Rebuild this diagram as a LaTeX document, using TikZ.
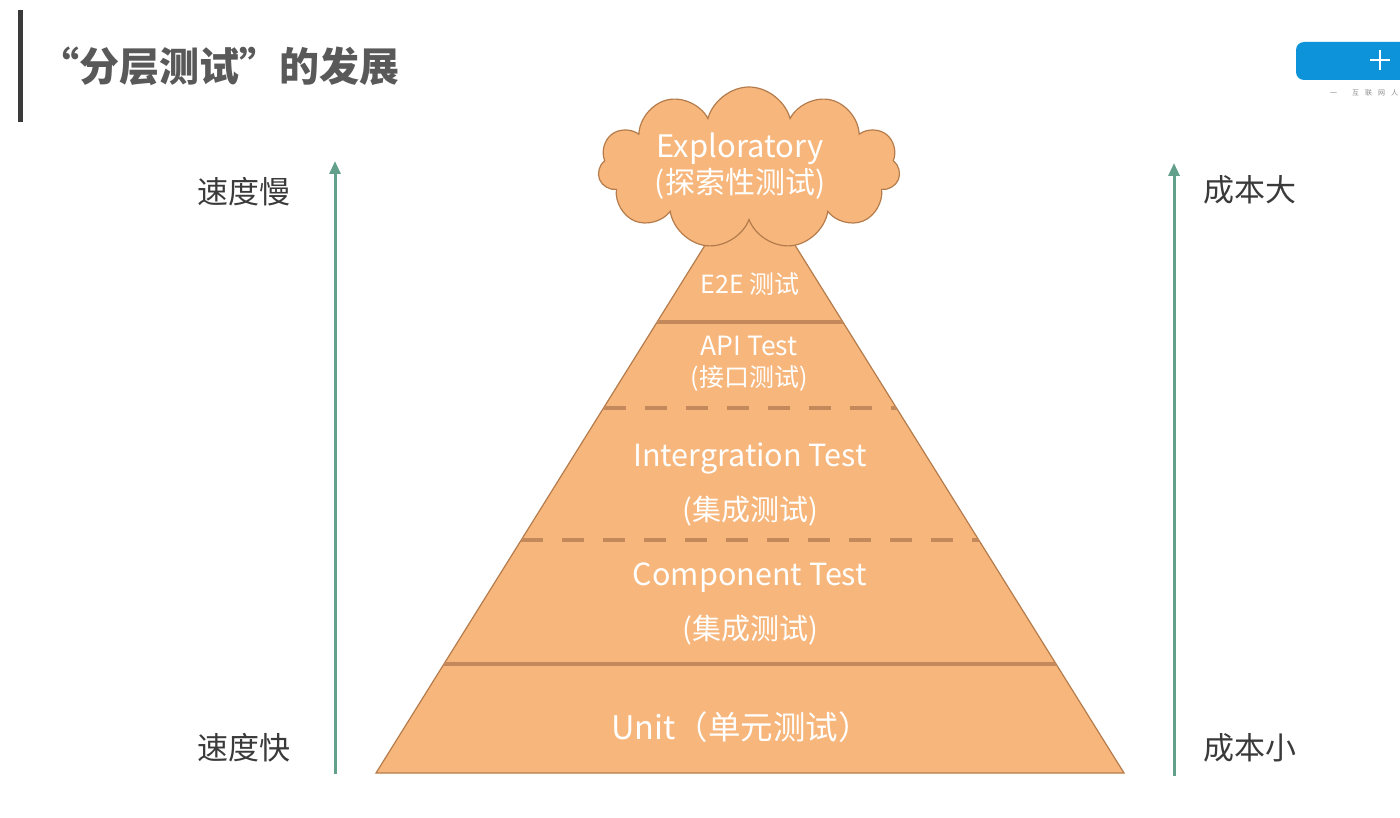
\documentclass[tikz,border=0pt]{standalone}
\usepackage{fontspec}
\setmainfont{Noto Sans CJK SC}
\usetikzlibrary{shapes.symbols,arrows.meta}
\definecolor{pyrfill}{HTML}{F7B67B}
\definecolor{pyredge}{HTML}{B47C4C}
\definecolor{pyrline}{HTML}{C4895A}
\definecolor{axisgreen}{HTML}{62A08C}
\definecolor{inkgray}{HTML}{3A3A3A}
\definecolor{logoblue}{HTML}{0C93DA}
\begin{document}
\begin{tikzpicture}[x=1pt,y=-1pt,
  lbl/.style={text=white,inner sep=0pt},
  side/.style={text=inkgray,font=\fontsize{31}{34}\selectfont,inner sep=0pt},
  axis/.style={draw=axisgreen,line width=3pt,-{Triangle[length=13pt,width=11pt]}},
  sep/.style={draw=pyrline,line width=4.5pt},
  sepdash/.style={sep,dash pattern=on 22pt off 19pt}]
\useasboundingbox (0,0) rectangle (1400,818);
% title
\fill[inkgray] (18,10) rectangle (23,122);
\node[anchor=west,inner sep=0pt,text=black!65,font=\fontsize{40}{44}\selectfont\bfseries] (title) at (39,66) {“分层测试”的发展};
% logo corner
\fill[logoblue,rounded corners=8pt] (1296,42) rectangle (1440,80);
\draw[white,line width=2pt] (1370,60) -- (1390,60) (1380,50) -- (1380,70);
\node[anchor=west,inner sep=0pt,text=black!45,font=\fontsize{7}{8}\selectfont] (logotxt) at (1330,93) {一\hspace{15pt}互\hspace{6pt}联\hspace{6pt}网\hspace{6pt}人};
% pyramid
\coordinate (apex) at (750,173);
\coordinate (bl) at (376,773);
\coordinate (br) at (1124,773);
\filldraw[fill=pyrfill,draw=pyredge,line width=1.2pt] (bl) -- (apex) -- (br) -- cycle;
\def\cut#1#2#3{\draw[#2] ({750-0.6233*(#1-173)},#1) -- ({750+0.6233*(#1-173)+#3},#1);}
\cut{322}{sep}{0}
\cut{664}{sep}{0}
\begin{scope}
\clip (bl) -- (apex) -- (br) -- cycle;
\cut{408}{sepdash}{30}
\cut{540}{sepdash}{30}
\end{scope}
\node[cloud,cloud puffs=11,cloud ignores aspect,fill=pyrfill,draw=pyredge,line width=1.2pt,minimum width=302pt,minimum height=162pt] (cloud) at (749,168) {};
\node[lbl,font=\fontsize{31}{34}\selectfont] (explore) at (740,149) {Exploratory};
\node[lbl,font=\fontsize{30}{34}\selectfont] (explorecn) at (740,184) {(探索性测试)};
\node[lbl,font=\fontsize{25}{28}\selectfont] (e2e) at (750,284) {E2E 测试};
\node[lbl,font=\fontsize{26.5}{30}\selectfont] (api) at (749,346) {API Test};
\node[lbl,font=\fontsize{25}{28}\selectfont] (apicn) at (749,378) {(接口测试)};
\node[lbl,font=\fontsize{30.5}{34}\selectfont] (integ) at (750,458) {Intergration Test};
\node[lbl,font=\fontsize{29}{32}\selectfont] (integcn) at (750,511) {(集成测试)};
\node[lbl,font=\fontsize{30.5}{34}\selectfont] (comp) at (750,578) {Component Test};
\node[lbl,font=\fontsize{29}{32}\selectfont] (compcn) at (750,630) {(集成测试)};
\node[lbl,font=\fontsize{32.5}{36}\selectfont] (unit) at (741,727) {Unit（单元测试）};
% side axes
\node[side] (slow) at (244,192) {速度慢};
\node[side] (fast) at (244,748) {速度快};
\node[side] (costhi) at (1250,190) {成本大};
\node[side] (costlo) at (1250,748) {成本小};
\coordinate (spdbot) at (335,774);
\coordinate (spdtop) at (335,161);
\coordinate (costbot) at (1174,776);
\coordinate (costtop) at (1174,163);
\draw[axis] (spdbot) -- (spdtop);
\draw[axis] (costbot) -- (costtop);
\end{tikzpicture}
\end{document}
